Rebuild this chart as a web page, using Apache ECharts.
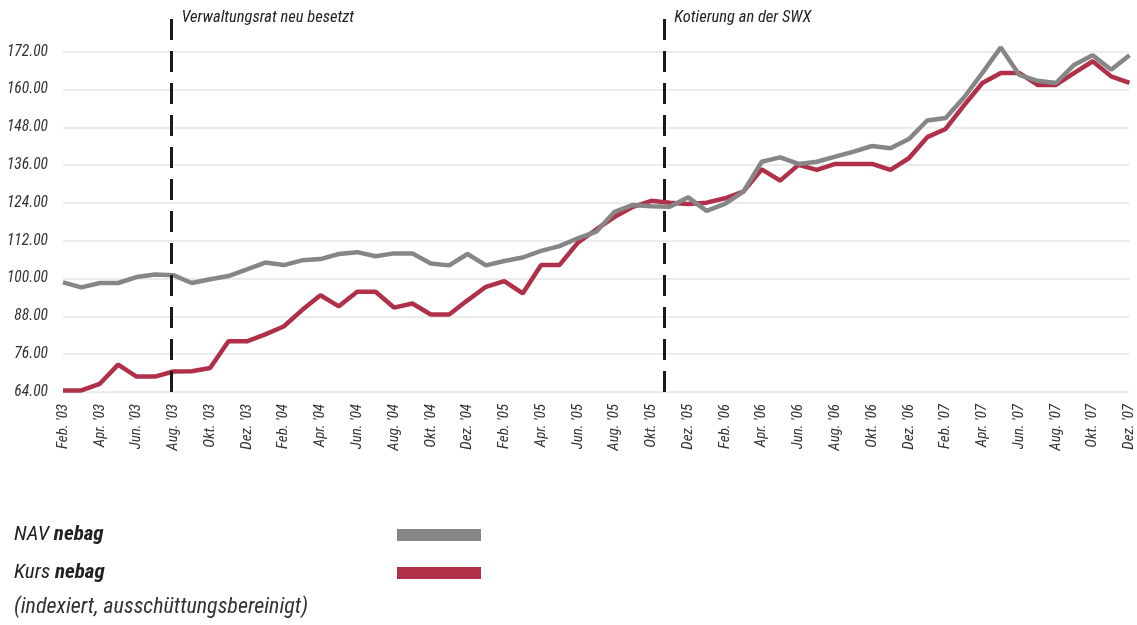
<!DOCTYPE html>
<html>
<head>
<meta charset="utf-8">
<script src="https://cdn.jsdelivr.net/npm/echarts@6/dist/echarts.min.js"></script>
<style>
html,body{margin:0;padding:0;background:#fff;}
#chart{width:1137px;height:625px;}
</style>
</head>
<body>
<div id="chart"></div>
<script>
const months = [
  "Feb. '03","Mär. '03","Apr. '03","Mai '03","Jun. '03","Jul. '03","Aug. '03","Sep. '03","Okt. '03","Nov. '03","Dez. '03",
  "Jan. '04","Feb. '04","Mär. '04","Apr. '04","Mai '04","Jun. '04","Jul. '04","Aug. '04","Sep. '04","Okt. '04","Nov. '04","Dez. '04",
  "Jan. '05","Feb. '05","Mär. '05","Apr. '05","Mai '05","Jun. '05","Jul. '05","Aug. '05","Sep. '05","Okt. '05","Nov. '05","Dez. '05",
  "Jan. '06","Feb. '06","Mär. '06","Apr. '06","Mai '06","Jun. '06","Jul. '06","Aug. '06","Sep. '06","Okt. '06","Nov. '06","Dez. '06",
  "Jan. '07","Feb. '07","Mär. '07","Apr. '07","Mai '07","Jun. '07","Jul. '07","Aug. '07","Sep. '07","Okt. '07","Nov. '07","Dez. '07"
];
const navNebag = [
  98.8, 97.2, 98.6, 98.6, 100.5, 101.3, 101.1, 98.6, 99.8, 100.8, 102.9,
  105.1, 104.3, 105.8, 106.2, 107.8, 108.4, 107.1, 108.0, 108.0, 104.8, 104.2, 107.8,
  104.2, 105.6, 106.7, 108.8, 110.3, 112.8, 114.9, 121.2, 123.4, 123.0, 122.8, 125.8,
  121.5, 123.7, 127.6, 137.1, 138.5, 136.4, 137.1, 138.7, 140.3, 142.1, 141.4, 144.3,
  150.2, 151.0, 157.5, 165.3, 173.4, 164.7, 162.8, 162.1, 167.9, 170.9, 166.3, 170.9
];
const kursNebag = [
  64.5, 64.5, 66.6, 72.7, 68.9, 68.9, 70.5, 70.6, 71.6, 80.1, 80.1,
  82.3, 84.8, 90.0, 94.7, 91.2, 95.8, 95.8, 90.8, 92.1, 88.6, 88.6, 93.1,
  97.4, 99.2, 95.3, 104.3, 104.3, 111.4, 115.6, 119.6, 122.8, 124.7, 124.1, 123.7,
  124.1, 125.5, 127.6, 134.7, 131.1, 136.1, 134.5, 136.4, 136.4, 136.4, 134.5, 138.2,
  144.9, 147.5, 155.0, 162.1, 165.3, 165.3, 161.5, 161.5, 165.3, 169.0, 164.2, 162.1
];
const seriesNames = ["NAV nebag", "Kurs nebag"];
const eventPos = [5.9, 32.7];
const eventLabels = ["Verwaltungsrat neu besetzt", "Kotierung an der SWX"];
const noteText = "(indexiert, ausschüttungsbereinigt)";

const FONT = "'Liberation Sans Narrow', 'Roboto Condensed', 'DejaVu Sans Condensed', 'Liberation Sans', sans-serif";
const GRAY = '#868686';
const RED = '#b0304a';

const toPairs = arr => arr.map((v, i) => [i, v]);

const chart = echarts.init(document.getElementById('chart'), null, {renderer: 'canvas'});

const markLineData = eventPos.map((x, k) => [
  {coord: [x, 64]},
  {coord: [x, 182.5],
   label: {show: true, position: 'end', formatter: eventLabels[k], align: 'left', verticalAlign: 'middle',
           padding: [0, 0, 0, 10], distance: 1, fontFamily: FONT, fontStyle: 'italic', fontSize: 16.5, color: '#222'}}
]);

chart.setOption({
  animation: false,
  backgroundColor: '#fff',
  grid: {left: 63, right: 7, top: 14, bottom: 233, containLabel: false},
  title: {
    text: noteText, left: 14, top: 596, padding: 0,
    textStyle: {fontFamily: FONT, fontStyle: 'italic', fontWeight: 'normal', fontSize: 22, color: '#333'}
  },
  legend: {
    data: seriesNames,
    orient: 'vertical', left: 14, top: 523, padding: 0,
    align: 'right', icon: 'rect', itemWidth: 84, itemHeight: 12, itemGap: 14,
    selectedMode: false,
    formatter: name => { const p = name.split(' '); return '{n|' + p[0] + ' }{b|' + p[1] + '}'; },
    textStyle: {
      width: 378, lineHeight: 24,
      rich: {
        n: {fontFamily: FONT, fontStyle: 'italic', fontSize: 21, color: '#222', align: 'left', lineHeight: 24},
        b: {fontFamily: FONT, fontStyle: 'italic', fontWeight: 'bold', fontSize: 21, color: '#222', align: 'left', lineHeight: 24}
      }
    }
  },
  xAxis: {
    type: 'value', min: 0, max: months.length - 1, interval: 2,
    axisLine: {show: false}, axisTick: {show: false}, splitLine: {show: false},
    axisLabel: {
      rotate: 90, margin: 12, showMaxLabel: true, showMinLabel: true,
      formatter: v => months[v] || '',
      fontFamily: FONT, fontStyle: 'italic', fontSize: 15, color: '#333'
    }
  },
  yAxis: {
    type: 'value', min: 64, max: 184, interval: 12,
    axisLine: {show: false}, axisTick: {show: false},
    splitLine: {show: true, showMaxLine: false, lineStyle: {color: '#e6e6e6', width: 1.5}},
    axisLabel: {
      showMaxLabel: false, margin: 15,
      formatter: v => v.toFixed(2),
      fontFamily: FONT, fontStyle: 'italic', fontSize: 15.5, color: '#333'
    }
  },
  series: [
    {
      name: seriesNames[1], type: 'line', data: toPairs(kursNebag),
      showSymbol: false, symbol: 'none', color: RED, itemStyle: {color: RED},
      lineStyle: {color: RED, width: 4.5}, z: 2,
      markLine: {
        silent: true, symbol: 'none', animation: false,
        lineStyle: {color: '#1a1a1a', width: 3, type: [21, 11]},
        label: {show: false},
        emphasis: {disabled: true},
        data: markLineData
      }
    },
    {
      name: seriesNames[0], type: 'line', data: toPairs(navNebag),
      showSymbol: false, symbol: 'none', color: GRAY, itemStyle: {color: GRAY},
      lineStyle: {color: GRAY, width: 4.5}, z: 3
    }
  ]
});
</script>
</body>
</html>
